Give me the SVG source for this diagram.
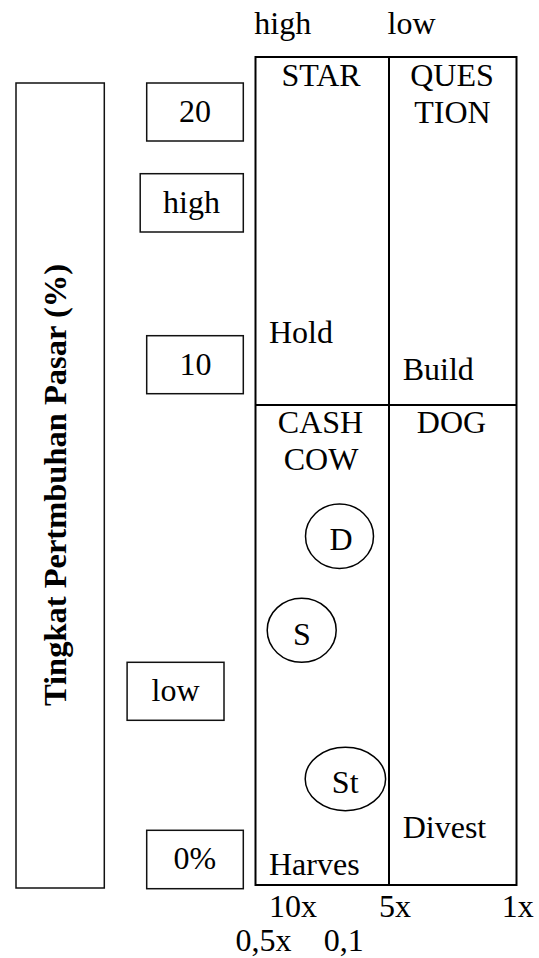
<svg xmlns="http://www.w3.org/2000/svg" width="539" height="958" viewBox="0 0 539 958">
  <style>
    text { font-family: "Liberation Serif", "Times New Roman", serif; font-size: 32px; fill: #000; }
    .mid { text-anchor: middle; }
    .title { font-weight: bold; font-size: 32.5px; }
    .box { fill: #fff; stroke: #111; stroke-width: 1.5; }
    .grid { fill: none; stroke: #000; stroke-width: 2; }
    .mark { fill: #fff; stroke: #000; stroke-width: 1.5; }
  </style>

  <rect width="539" height="958" fill="#fff"/>

  <!-- axis caption: market growth rate -->
  <g id="axis-title">
    <rect class="box" x="16" y="83" width="88.3" height="805"/>
    <text class="title mid" transform="translate(66,485) rotate(-90)">Tingkat Pertmbuhan Pasar (%)</text>
  </g>

  <!-- growth scale labels -->
  <g id="label-20">
    <rect class="box" x="146.7" y="83" width="96.6" height="58"/>
    <text class="mid" x="195" y="122">20</text>
  </g>
  <g id="label-high">
    <rect class="box" x="140.2" y="173.7" width="103.1" height="58.3"/>
    <text class="mid" x="191.5" y="213.3">high</text>
  </g>
  <g id="label-10">
    <rect class="box" x="146.7" y="335.7" width="96.6" height="58"/>
    <text class="mid" x="195.5" y="375">10</text>
  </g>
  <g id="label-low">
    <rect class="box" x="127.1" y="662.3" width="96.9" height="58"/>
    <text class="mid" x="175.5" y="701">low</text>
  </g>
  <g id="label-0">
    <rect class="box" x="146.7" y="830.3" width="96.6" height="58.4"/>
    <text x="173.5" y="869.3">0%</text>
  </g>

  <!-- market share header -->
  <g id="share-header">
    <text x="254.3" y="34.3">high</text>
    <text x="387.6" y="34.3">low</text>
  </g>

  <!-- matrix grid -->
  <g id="matrix">
    <rect class="grid" x="255.5" y="57" width="261" height="828"/>
    <line class="grid" x1="389" y1="57" x2="389" y2="885"/>
    <line class="grid" x1="255.5" y1="405" x2="516.5" y2="405"/>
  </g>

  <g id="cell-star">
    <text class="mid" x="321" y="86">STAR</text>
    <text x="269" y="343.3">Hold</text>
  </g>
  <g id="cell-question">
    <text class="mid" x="452" y="86">QUES</text>
    <text class="mid" x="452.5" y="122.7">TION</text>
    <text x="402.7" y="380">Build</text>
  </g>
  <g id="cell-cashcow">
    <text class="mid" x="320.5" y="433.3">CASH</text>
    <text class="mid" x="321" y="470">COW</text>
    <text x="269" y="875">Harves</text>
  </g>
  <g id="cell-dog">
    <text class="mid" x="451.5" y="433.3">DOG</text>
    <text x="402.7" y="838.3">Divest</text>
  </g>

  <!-- business units -->
  <g id="unit-d">
    <ellipse class="mark" cx="339.5" cy="536.2" rx="34" ry="32.2"/>
    <text class="mid" x="341" y="550">D</text>
  </g>
  <g id="unit-s">
    <ellipse class="mark" cx="301.7" cy="630.3" rx="34.5" ry="32"/>
    <text class="mid" x="302" y="645">S</text>
  </g>
  <g id="unit-st">
    <ellipse class="mark" cx="345.4" cy="779" rx="40.2" ry="31.7"/>
    <text class="mid" x="345.2" y="793.3">St</text>
  </g>

  <!-- relative share scale -->
  <g id="share-scale">
    <text x="269" y="917.3">10x</text>
    <text x="379" y="917.3">5x</text>
    <text x="501.7" y="917.3">1x</text>
    <text x="235.4" y="951">0,5x</text>
    <text x="323.7" y="951">0,1</text>
  </g>
</svg>
